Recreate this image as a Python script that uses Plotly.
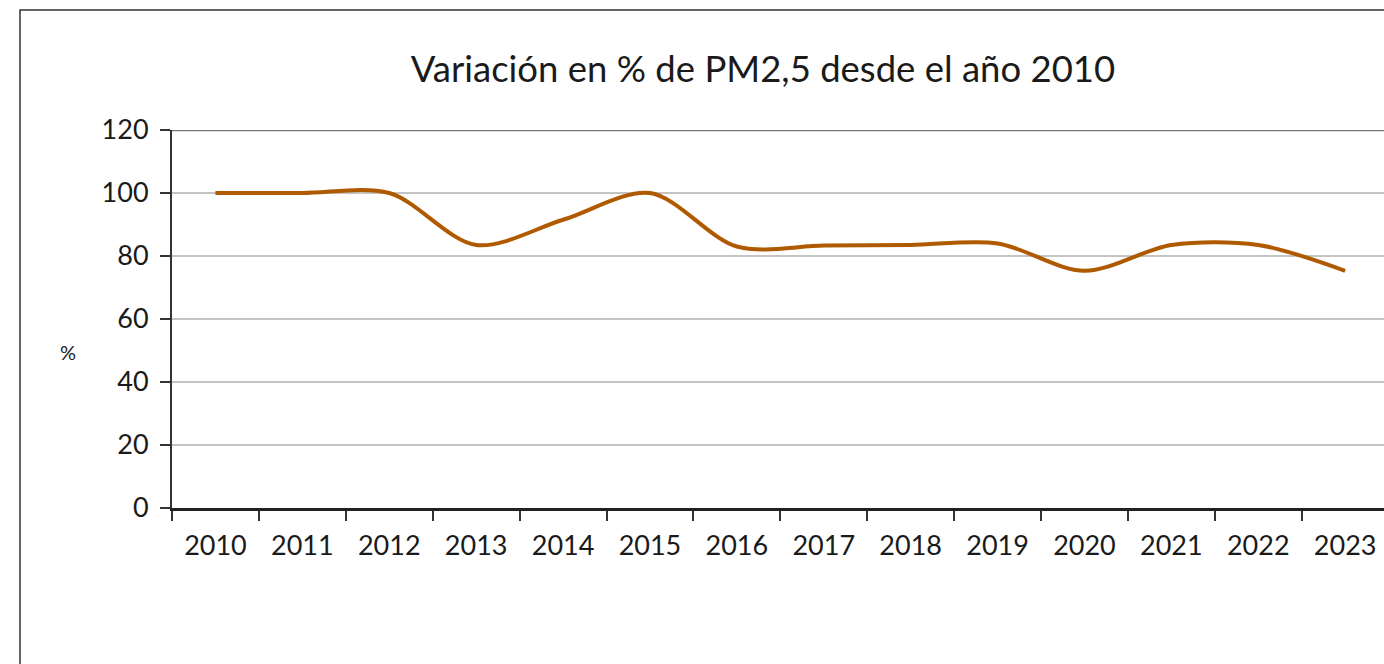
import plotly.graph_objects as go

years = ["2010", "2011", "2012", "2013", "2014", "2015", "2016",
         "2017", "2018", "2019", "2020", "2021", "2022", "2023"]
values = [100, 100, 100, 83.5, 91.5, 100, 83, 83.3, 83.5, 84, 75.3, 83.5, 83.5, 75.3]
y_ticks = [0, 20, 40, 60, 80, 100, 120]

W, H = 1384, 664
ML, MT, MB, MR = 172, 130, 156, 0
PW = W - ML - MR
PH = H - MT - MB

fig = go.Figure()
fig.add_trace(go.Scatter(
    x=years, y=values, mode="lines",
    line=dict(color="#B05A00", width=4, shape="spline", smoothing=0.9),
    showlegend=False, hoverinfo="x+y",
))

font_family = "Lato, 'Open Sans', sans-serif"

fig.update_layout(
    width=W, height=H,
    margin=dict(l=ML, r=MR, t=MT, b=MB, pad=0),
    paper_bgcolor="white", plot_bgcolor="white",
    font=dict(family=font_family, color="#1a1a1a"),
    title=dict(
        text="Variación en % de PM2,5 desde el año 2010",
        font=dict(size=36.5, family=font_family, color="#1a1a1a"),
        x=763 / W, xref="container", xanchor="center",
        y=1 - 69 / H, yref="container", yanchor="middle",
    ),
    xaxis=dict(
        type="category", range=[-0.5, -0.5 + PW / 86.9],
        tickson="boundaries", ticks="outside", ticklen=10, tickwidth=1.5,
        tickcolor="#333", showline=True, linecolor="#222", linewidth=2.5,
        showgrid=False, zeroline=False,
        tickfont=dict(size=27, family=font_family, color="#1a1a1a"),
        ticklabelstandoff=12,
    ),
    yaxis=dict(
        range=[0, 120], tickvals=y_ticks, ticks="outside", ticklen=10,
        tickwidth=1.5, tickcolor="#333", showline=True, linecolor="#333",
        linewidth=2, showgrid=True, gridcolor="#c4c4c4", gridwidth=1.5,
        zeroline=False,
        tickfont=dict(size=27, family=font_family, color="#1a1a1a"),
        ticklabelstandoff=6,
    ),
)

# top border of plot area (darker line at 120)
fig.add_shape(type="line", xref="paper", yref="y", x0=0, x1=1, y0=120, y1=120,
              line=dict(color="#7a7a7a", width=2.5), layer="above")

# outer chart border
fig.add_shape(type="rect", xref="paper", yref="paper",
              x0=(20 - ML) / PW, x1=(W + 20 - ML) / PW,
              y0=-(H + 20 - MT - PH) / PH, y1=(MT + PH - 10) / PH,
              line=dict(color="#333", width=1.5), layer="below")

# "%" axis label
fig.add_annotation(text="%", xref="paper", yref="paper",
                   x=(68 - ML) / PW, y=(508 - 352) / PH,
                   showarrow=False, xanchor="center", yanchor="middle",
                   font=dict(size=20, family=font_family, color="#1a1a1a"))

fig.write_html("out.html", config={"displayModeBar": False},
               post_script="document.body.style.margin='0';document.body.style.overflow='hidden';")
